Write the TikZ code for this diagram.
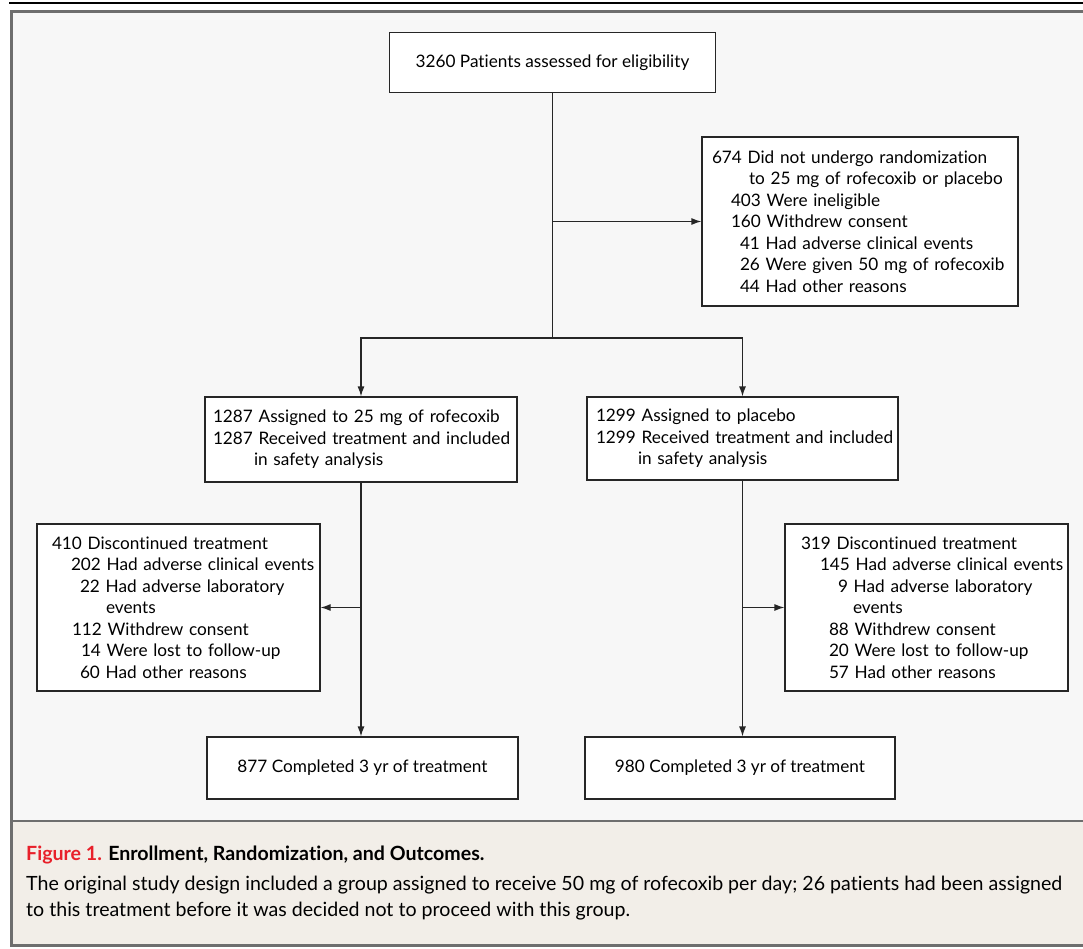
\documentclass[tikz,border=0pt]{standalone}
\usepackage{fontspec}
\setmainfont[Ligatures=NoCommon]{Lato}
\usepackage{tikz}
\usetikzlibrary{arrows.meta}

\definecolor{panelgray}{HTML}{F7F7F7}
\definecolor{captionbg}{HTML}{F2EEE8}
\definecolor{framegray}{HTML}{6E6E6E}
\definecolor{figred}{HTML}{E8202A}

% one unbreakable line of a box, indented by #1 pt
\newcommand{\boxline}[2]{\hspace*{#1pt}\mbox{#2}}

\begin{document}
\begin{tikzpicture}[x=1pt,y=-1pt,
		flowbox/.style={rectangle,draw=black!85,line width=1.2pt,fill=white,
			inner xsep=10pt,inner ysep=0pt,align=left,
			font=\fontsize{17.2}{21.5}\selectfont},
		flowline/.style={draw=black!85,line width=1.2pt},
		flowarrow/.style={flowline,-{Latex[length=10pt,width=7pt]}}]
		\useasboundingbox (0,0) rectangle (1083,949);
%		panel and caption background
		\fill[panelgray] (11.5,11.5) rectangle (1090,821);
		\fill[captionbg] (11.5,821) rectangle (1090,945.5);
		\draw[black,line width=1.5pt] (9,3) -- (1083,3);
		\draw[framegray,line width=2.6pt] (1090,11.5) -- (11.5,11.5) -- (11.5,945.5) -- (1090,945.5);
		\draw[framegray,line width=2.6pt] (11.5,821) -- (1090,821);

%		boxes
		\path (552.5,62.5) node(assess) [flowbox,align=center,minimum width=326,minimum height=60]
			{3260 Patients assessed for eligibility};
		\path (860,221.5) node(excl) [flowbox,text width=302,inner xsep=7pt,minimum height=169]
			{\boxline{3}{674 Did not undergo randomization}\\
			\boxline{40}{to 25 mg of rofecoxib or placebo}\\
			\boxline{22}{403 Were ineligible}\\
			\boxline{22}{160 Withdrew consent}\\
			\boxline{31}{41 Had adverse clinical events}\\
			\boxline{31}{26 Were given 50 mg of rofecoxib}\\
			\boxline{31}{44 Had other reasons}};
		\path (361,439.5) node(randL) [flowbox,text width=300,inner xsep=6pt,minimum height=85]
			{\boxline{2}{1287 Assigned to 25 mg of rofecoxib}\\
			\boxline{2}{1287 Received treatment and included}\\
			\boxline{43}{in safety analysis}};
		\path (742.5,438.5) node(randR) [flowbox,text width=299,inner xsep=6pt,minimum height=83]
			{\boxline{3}{1299 Assigned to placebo}\\
			\boxline{3}{1299 Received treatment and included}\\
			\boxline{45}{in safety analysis}};
		\path (178.5,607.5) node(discL) [flowbox,inner xsep=5pt,text width=273,minimum height=167]
			{\boxline{10}{410 Discontinued treatment}\\
			\boxline{29}{202 Had adverse clinical events}\\
			\boxline{38}{22 Had adverse laboratory}\\
			\boxline{64}{events}\\
			\boxline{30}{112 Withdrew consent}\\
			\boxline{39}{14 Were lost to follow-up}\\
			\boxline{38}{60 Had other reasons}};
		\path (926.5,607.5) node(discR) [flowbox,inner xsep=5pt,text width=273,minimum height=167]
			{\boxline{11}{319 Discontinued treatment}\\
			\boxline{30}{145 Had adverse clinical events}\\
			\boxline{48}{9 Had adverse laboratory}\\
			\boxline{63}{events}\\
			\boxline{39}{88 Withdrew consent}\\
			\boxline{39}{20 Were lost to follow-up}\\
			\boxline{39}{57 Had other reasons}};
		\path (362.5,768) node(compL) [flowbox,align=center,minimum width=311,minimum height=62]
			{877 Completed 3 yr of treatment};
		\path (740,768) node(compR) [flowbox,align=center,minimum width=310,minimum height=62]
			{980 Completed 3 yr of treatment};

%		connectors
		\path (552.5,338) coordinate (split);
		\draw[flowline] (assess.south) -- (split);
		\draw[flowarrow] (assess.south |- excl.west) -- (excl.west);
		\draw[flowarrow] (split) -| (randL.north);
		\draw[flowarrow] (split) -| (randR.north);
		\draw[flowarrow] (randL.south) -- (randL.south |- compL.north);
		\draw[flowarrow] (randR.south) -- (randR.south |- compR.north);
		\draw[flowarrow] (randL.south |- discL.east) -- (discL.east);
		\draw[flowarrow] (randR.south |- discR.west) -- (discR.west);

%		caption
		\path (26,860) node(captitle) [anchor=base west,inner sep=0pt,font=\fontsize{19.6}{26}\selectfont\bfseries]
			{\textcolor{figred}{Figure 1.} Enrollment, Randomization, and Outcomes.};
		\path (26,916) node(captext) [anchor=base west,inner sep=0pt,align=left,font=\fontsize{19.6}{26}\selectfont]
			{The original study design included a group assigned to receive 50 mg of rofecoxib per day; 26 patients had been assigned\\
			to this treatment before it was decided not to proceed with this group.};
	\end{tikzpicture}
\end{document}
